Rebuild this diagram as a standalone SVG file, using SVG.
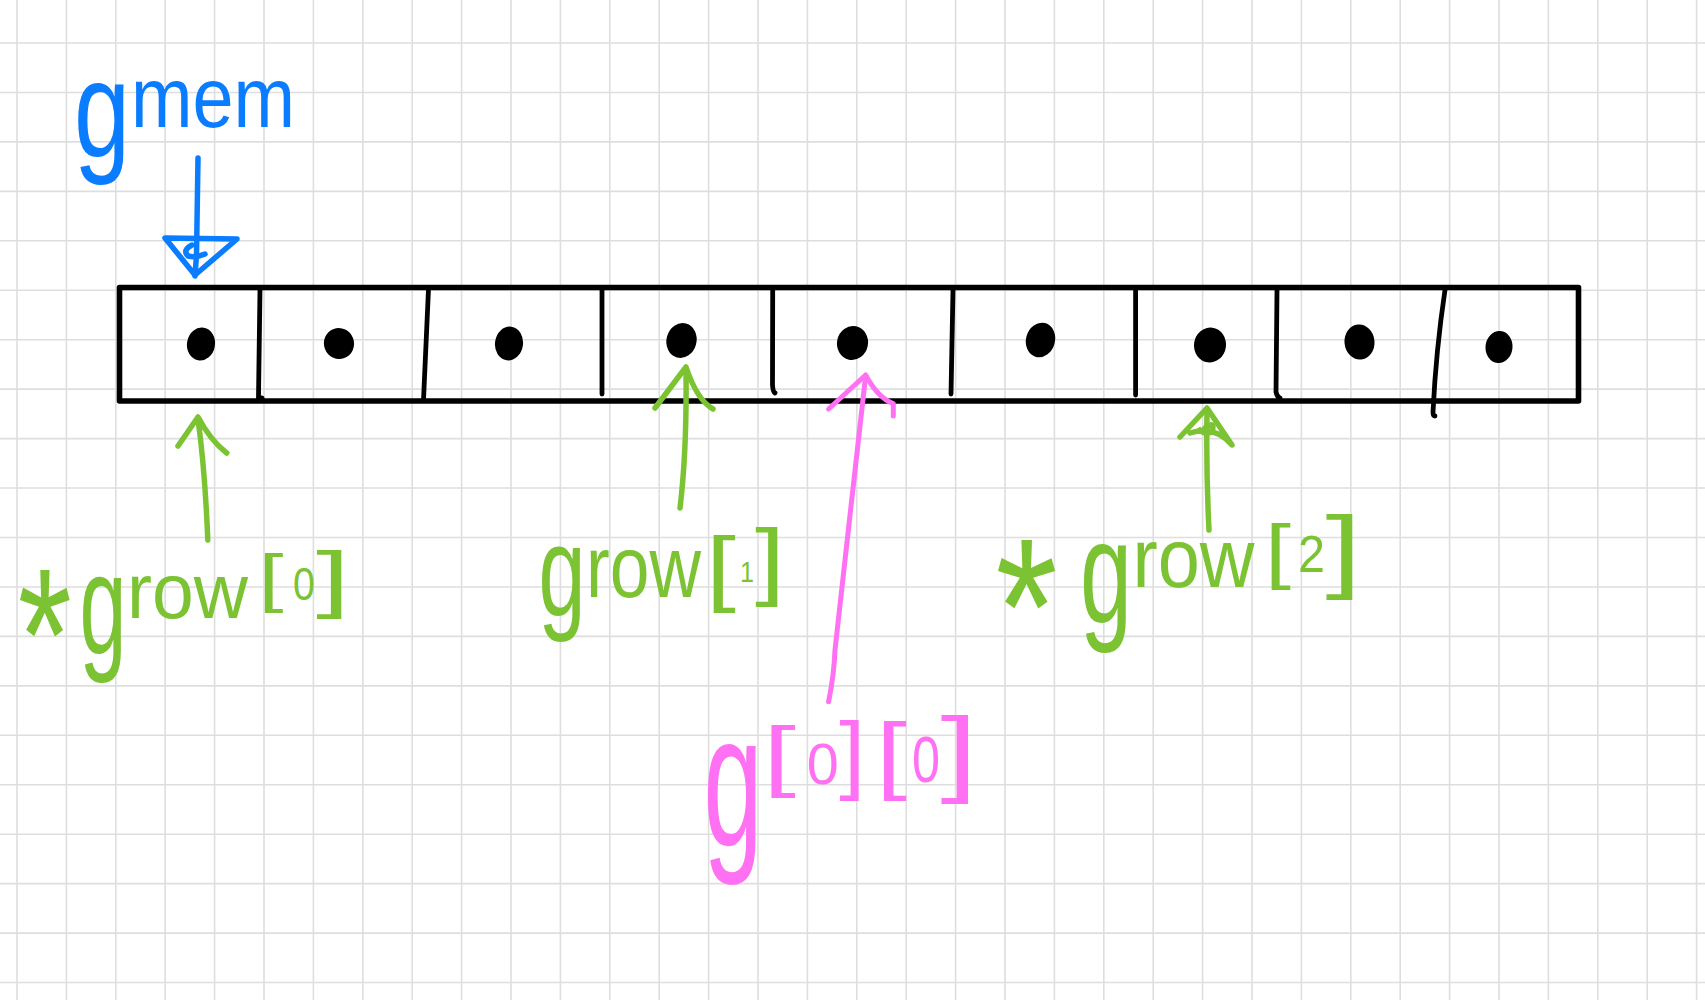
<svg xmlns="http://www.w3.org/2000/svg" width="1705" height="1000" viewBox="0 0 1705 1000">
<style>
.grid{stroke:#dedede;stroke-width:1.6;fill:none}
.ink{fill:none;stroke-linecap:round;stroke-linejoin:round}
.div{stroke:#000;stroke-width:4.8;fill:none;stroke-linecap:round}
.blue{stroke:#0a7cff;stroke-width:5.5}
.green{stroke:#7cc333;stroke-width:5.5}
.pink{stroke:#ff70f2;stroke-width:5}
.dot{fill:#000}
.t{font-family:"Liberation Sans",Arial,sans-serif}
.tb{fill:#0a7cff}
.tg{fill:#7cc333}
.tp{fill:#ff70f2}
</style>
<rect width="1705" height="1000" fill="#fff"/>
<g id="grid">
<path class="grid" d="M17 0V1000M66.4 0V1000M115.8 0V1000M165.2 0V1000M214.6 0V1000M264 0V1000M313.4 0V1000M362.8 0V1000M412.2 0V1000M461.6 0V1000M511 0V1000M560.4 0V1000M609.8 0V1000M659.2 0V1000M708.6 0V1000M758 0V1000M807.4 0V1000M856.8 0V1000M906.2 0V1000M955.6 0V1000M1005 0V1000M1054.4 0V1000M1103.8 0V1000M1153.2 0V1000M1202.6 0V1000M1252 0V1000M1301.4 0V1000M1350.8 0V1000M1400.2 0V1000M1449.6 0V1000M1499 0V1000M1548.4 0V1000M1597.8 0V1000M1647.2 0V1000M1696.6 0V1000
M0 43H1705M0 92.45H1705M0 141.9H1705M0 191.35H1705M0 240.8H1705M0 290.25H1705M0 339.7H1705M0 389.15H1705M0 438.6H1705M0 488.05H1705M0 537.5H1705M0 586.95H1705M0 636.4H1705M0 685.85H1705M0 735.3H1705M0 784.75H1705M0 834.2H1705M0 883.65H1705M0 933.1H1705M0 982.55H1705"/>
</g>
<g id="array">
<rect x="119.5" y="287.5" width="1459" height="113.5" fill="none" stroke="#000" stroke-width="5.6" stroke-linejoin="round"/>
<path class="div" d="M260 289L258.5 397L262 398"/>
<path class="div" d="M428.5 289L423.5 400"/>
<path class="div" d="M602 290L602 394"/>
<path class="div" d="M772.7 290L772.5 385Q773 392 775 393"/>
<path class="div" d="M953 290L951 394"/>
<path class="div" d="M1135.6 290L1135.6 395"/>
<path class="div" d="M1277 290L1276 392Q1277 397 1280 398"/>
<path class="div" d="M1445 290Q1436 350 1433 412Q1433 416 1435 416"/>
</g>
<g id="cell0"><ellipse class="dot" cx="201" cy="344" rx="14" ry="16.5" transform="rotate(10 201 344)"/></g>
<g id="cell1"><ellipse class="dot" cx="339" cy="343.5" rx="15" ry="15.5" transform="rotate(-20 339 343.5)"/></g>
<g id="cell2"><ellipse class="dot" cx="509" cy="343.5" rx="14" ry="17" transform="rotate(8 509 343.5)"/></g>
<g id="cell3"><ellipse class="dot" cx="681.5" cy="340.5" rx="15" ry="17.5" transform="rotate(15 681.5 340.5)"/></g>
<g id="cell4"><ellipse class="dot" cx="852.5" cy="343" rx="15.5" ry="17" transform="rotate(12 852.5 343)"/></g>
<g id="cell5"><ellipse class="dot" cx="1040.5" cy="340" rx="14.5" ry="17.5" transform="rotate(15 1040.5 340)"/></g>
<g id="cell6"><ellipse class="dot" cx="1210" cy="345" rx="16" ry="17.5" transform="rotate(8 1210 345)"/></g>
<g id="cell7"><ellipse class="dot" cx="1359.5" cy="342" rx="15" ry="17.5" transform="rotate(-5 1359.5 342)"/></g>
<g id="cell8"><ellipse class="dot" cx="1499" cy="347" rx="13.5" ry="16" transform="rotate(5 1499 347)"/></g>
<g id="connectors">
<g id="arrow-gmem" class="ink blue">
<path d="M198 158L196.5 255L195 276"/>
<path d="M165 238L237 239L195 275Z"/>
<path d="M192 245Q182 250 188 256Q196 258 205 254"/>
</g>
<g id="arrow-grow0" class="ink green">
<path d="M207.8 540Q205 470 198 419"/>
<path d="M178 446L198 417Q210 440 226.7 453"/>
</g>
<g id="arrow-grow1" class="ink green">
<path d="M680 508Q687 450 686 370"/>
<path d="M655 408L686 367Q697 400 713 409"/>
</g>
<g id="arrow-grow2" class="ink green">
<path d="M1209 530Q1206 470 1207 412"/>
<path d="M1180 437L1207 408L1232 445Q1215 425 1190 433"/>
<path d="M1205 428Q1216 420 1212 432Q1205 435 1200 430"/>
</g>
<g id="arrow-g00" class="ink pink">
<path d="M828.6 701.8Q834 675 835 650L848.5 528.6L865.6 376"/>
<path d="M828.6 409L865.6 375Q878 398 893.3 403.6L893.3 416"/>
</g>
</g>
<g id="label-gmem">
<text class="t tb" transform="scale(0.74 1)"><tspan x="100" y="156" font-size="138" textLength="75.7" lengthAdjust="spacingAndGlyphs">g</tspan><tspan x="177.03" y="127" font-size="86" textLength="221.62" lengthAdjust="spacingAndGlyphs">mem</tspan></text>
</g>
<g id="label-grow0">
<text class="t tg" transform="scale(0.6 1)"><tspan x="29.67" y="700" font-size="190" textLength="90" lengthAdjust="spacingAndGlyphs">*</tspan><tspan x="132.5" y="653" font-size="142" textLength="78.33" lengthAdjust="spacingAndGlyphs">g</tspan><tspan x="211.67" y="618" font-size="77" textLength="201.67" lengthAdjust="spacingAndGlyphs">row</tspan><tspan x="430.83" y="600" font-size="64" textLength="41.67" lengthAdjust="spacingAndGlyphs">[</tspan><tspan x="488.33" y="600" font-size="46" textLength="36.67" lengthAdjust="spacingAndGlyphs">0</tspan><tspan x="526.67" y="604" font-size="75" textLength="56.67" lengthAdjust="spacingAndGlyphs">]</tspan></text>
</g>
<g id="label-grow1">
<text class="t tg" transform="scale(0.66 1)"><tspan x="816.06" y="614.8" font-size="128" textLength="71.21" lengthAdjust="spacingAndGlyphs">g</tspan><tspan x="887.88" y="597" font-size="88" textLength="174.24" lengthAdjust="spacingAndGlyphs">row</tspan><tspan x="1069.7" y="595.6" font-size="83" textLength="45.45" lengthAdjust="spacingAndGlyphs">[</tspan><tspan x="1121.21" y="582" font-size="30" textLength="21.21" lengthAdjust="spacingAndGlyphs">1</tspan><tspan x="1143.94" y="588.8" font-size="85" textLength="45.45" lengthAdjust="spacingAndGlyphs">]</tspan></text>
</g>
<g id="label-grow2">
<text class="t tg" transform="scale(0.64 1)"><tspan x="1555.47" y="674" font-size="195" textLength="96.88" lengthAdjust="spacingAndGlyphs">*</tspan><tspan x="1687.5" y="622.7" font-size="147" textLength="81.25" lengthAdjust="spacingAndGlyphs">g</tspan><tspan x="1769.53" y="587.5" font-size="83" textLength="190.63" lengthAdjust="spacingAndGlyphs">row</tspan><tspan x="1976.56" y="575" font-size="72" textLength="40.63" lengthAdjust="spacingAndGlyphs">[</tspan><tspan x="2028.13" y="572" font-size="52" textLength="42.19" lengthAdjust="spacingAndGlyphs">2</tspan><tspan x="2071.09" y="580.7" font-size="92" textLength="56.25" lengthAdjust="spacingAndGlyphs">]</tspan></text>
</g>
<g id="label-g00">
<text class="t tp" transform="scale(0.56 1)"><tspan x="1256.43" y="846" font-size="189" textLength="105.36" lengthAdjust="spacingAndGlyphs">g</tspan><tspan x="1362.5" y="781.6" font-size="78" textLength="58.93" lengthAdjust="spacingAndGlyphs">[</tspan><tspan x="1440.54" y="784" font-size="57" textLength="57.14" lengthAdjust="spacingAndGlyphs">0</tspan><tspan x="1498.57" y="783.5" font-size="87" textLength="46.43" lengthAdjust="spacingAndGlyphs">]</tspan><tspan x="1564.29" y="782.9" font-size="85" textLength="55.36" lengthAdjust="spacingAndGlyphs">[</tspan><tspan x="1628.57" y="782" font-size="64" textLength="50" lengthAdjust="spacingAndGlyphs">0</tspan><tspan x="1679.46" y="783.6" font-size="95" textLength="66.07" lengthAdjust="spacingAndGlyphs">]</tspan></text>
</g>
</svg>
